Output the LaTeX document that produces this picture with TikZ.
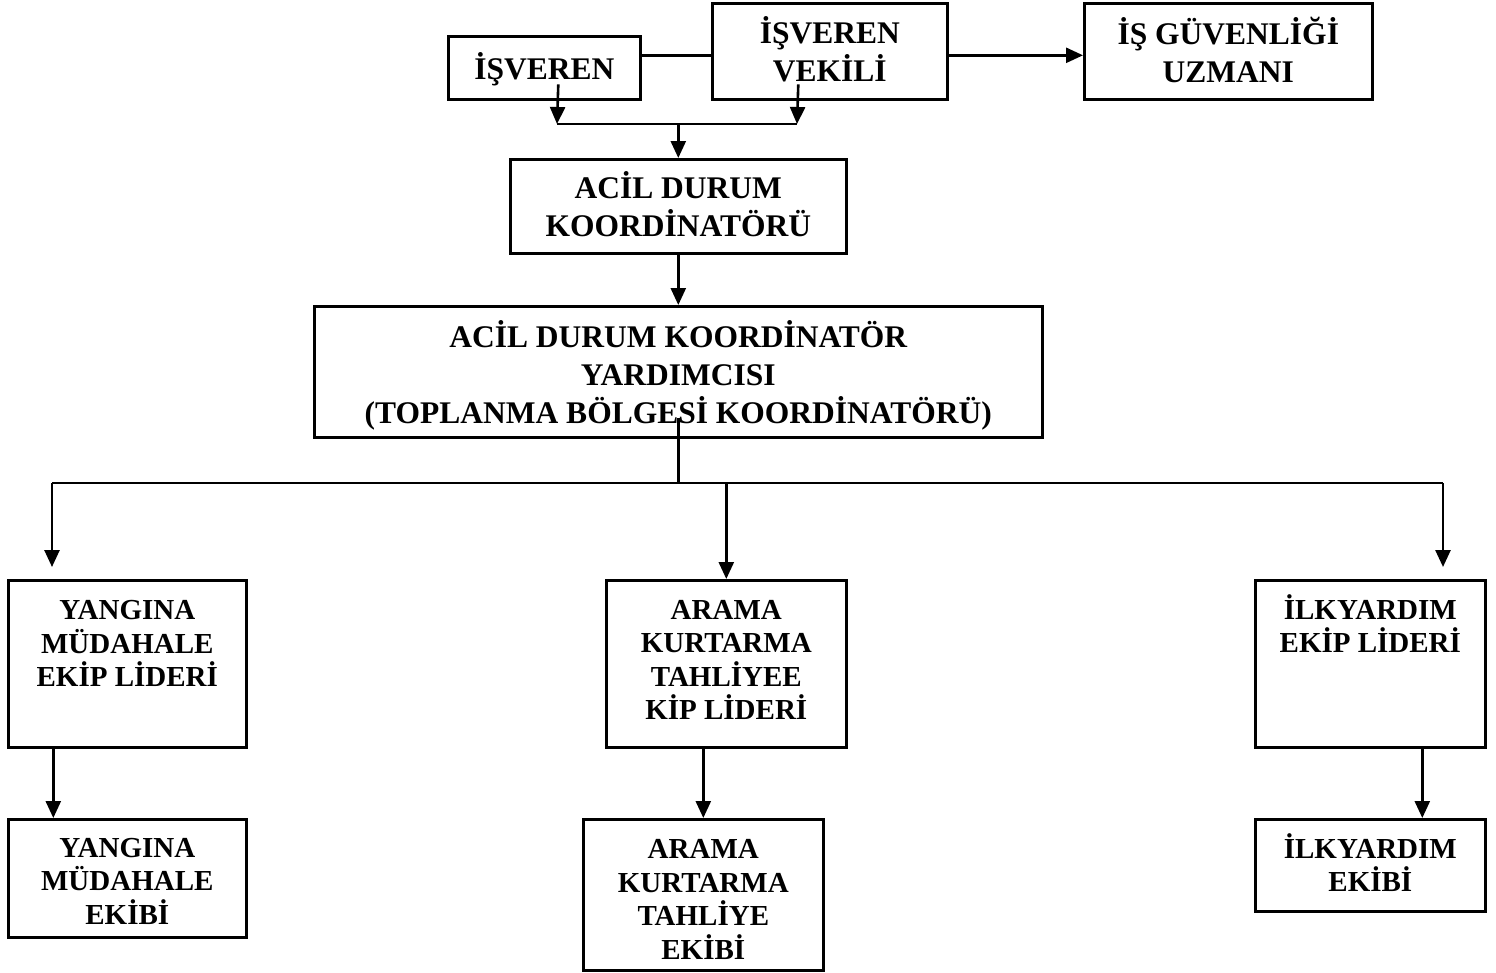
\documentclass[tikz,border=0pt]{standalone}
\usepackage{fontspec}
\setmainfont{Liberation Serif}
\usetikzlibrary{arrows.meta}
\begin{document}
\begin{tikzpicture}[x=1pt,y=-1pt,
  line width=2.6pt,
  box/.style={draw, rectangle, inner sep=0pt, anchor=north west},
  btxt/.style={inner sep=0pt, align=center, font=\fontsize{31.5}{38}\selectfont\bfseries},
  stxt/.style={inner sep=0pt, align=center, font=\fontsize{29}{33.5}\selectfont\bfseries},
  arr/.style={-{Triangle[width=15pt,length=17pt]}}]
\useasboundingbox (0,0) rectangle (1496,972);
% top row boxes
\node[box, minimum width=192pt, minimum height=63pt] (isv) at (447,35) {};
\node[box, minimum width=235pt, minimum height=96pt] (vek) at (711,2) {};
\node[box, minimum width=288pt, minimum height=96pt] (uzm) at (1083,2) {};
\node[box, minimum width=336pt, minimum height=94pt] (acil) at (509,158) {};
\node[box, minimum width=728pt, minimum height=131pt] (yrd) at (313,305) {};
% leaders
\node[box, minimum width=238pt, minimum height=167pt] (yml) at (7,579) {};
\node[box, minimum width=240pt, minimum height=167pt] (akl) at (605,579) {};
\node[box, minimum width=230pt, minimum height=167pt] (ill) at (1254,579) {};
% teams
\node[box, minimum width=238pt, minimum height=118pt] (yme) at (7,818) {};
\node[box, minimum width=240pt, minimum height=151pt] (ake) at (582,818) {};
\node[box, minimum width=230pt, minimum height=92pt] (ile) at (1254,818) {};
% texts
\node[btxt] (isvt) at ([yshift=-1pt]isv.center) {İŞVEREN};
\node[btxt] (vekt) at ([yshift=2.5pt]vek.center) {İŞVEREN\\VEKİLİ};
\node[btxt] (uzmt) at ([yshift=1.5pt]uzm.center) {İŞ GÜVENLİĞİ\\UZMANI};
\node[btxt] (acilt) at ([yshift=2pt]acil.center) {ACİL DURUM\\KOORDİNATÖRÜ};
\node[btxt] (yrdt) at ([yshift=-4pt]yrd.center) {ACİL DURUM KOORDİNATÖR\\YARDIMCISI\\(TOPLANMA BÖLGESİ KOORDİNATÖRÜ)};
\node[stxt, anchor=north] (ymlt) at ([yshift=-20pt]yml.north) {YANGINA\\MÜDAHALE\\EKİP LİDERİ};
\node[stxt] (aklt) at ([yshift=4pt]akl.center) {ARAMA\\KURTARMA\\TAHLİYEE\\KİP LİDERİ};
\node[stxt, anchor=north] (illt) at ([yshift=-14pt]ill.north) {İLKYARDIM\\EKİP LİDERİ};
\node[stxt] (ymet) at ([yshift=-3pt]yme.center) {YANGINA\\MÜDAHALE\\EKİBİ};
\node[stxt] (aket) at ([yshift=-4.5pt]ake.center) {ARAMA\\KURTARMA\\TAHLİYE\\EKİBİ};
\node[stxt] (ilet) at ([yshift=2.5pt]ile.center) {İLKYARDIM\\EKİBİ};
% coordinates
\coordinate (j1) at (557,124);
\coordinate (j2) at (797,124);
\coordinate (h1) at (52,483);
\coordinate (h2) at (1443,483);
\coordinate (t1) at (52,567);
\coordinate (t2) at (1443,567);
% top connectors
\draw ([yshift=12.5pt]isv.east) -- ([yshift=-4pt]vek.west);
\draw[arr] ([yshift=-4pt]vek.east) -- ([yshift=-4pt]uzm.west);
\draw[arr] ([xshift=14pt,yshift=-16.5pt]isv.center) -- (j1);
\draw[arr] ([xshift=-31.5pt,yshift=-33pt]vek.center) -- (j2);
\draw (j1) -- (j2);
\draw[arr] (acil.north |- j1) -- (acil.north);
\draw[arr] (acil.south) -- (yrd.south |- yrd.north);
% distribution
\draw ([yshift=21pt]yrd.south) -- (yrd.south |- h1);
\draw (h1) -- (h2);
\draw[arr] (h1) -- (t1);
\draw[arr] (akl.north |- h1) -- (akl.north);
\draw[arr] (h2) -- (t2);
% leader to team
\draw[arr] ([xshift=-74pt]yml.south) -- ([xshift=-74pt]yme.north);
\draw[arr] (ake.north |- akl.south) -- (ake.north);
\draw[arr] ([xshift=52pt]ill.south) -- ([xshift=52pt]ile.north);
\end{tikzpicture}
\end{document}
